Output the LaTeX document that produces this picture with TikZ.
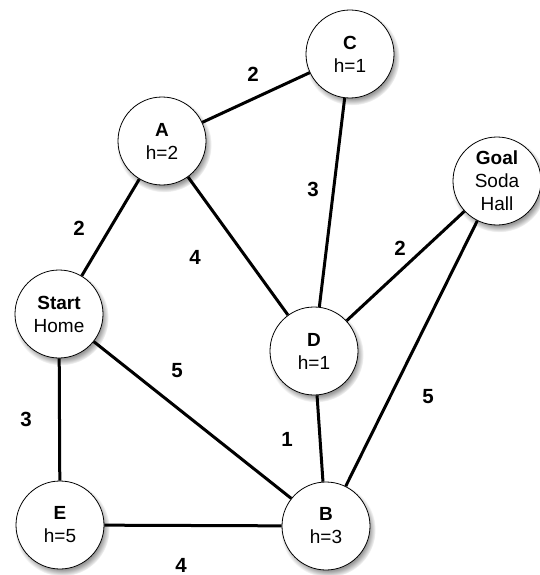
\documentclass[tikz,border=0pt]{standalone}
\usepackage{fontspec}
\setmainfont{Liberation Sans}
\usetikzlibrary{shadows,fadings}

\begin{document}
\begin{tikzpicture}[x=1pt, y=-1pt,
  vertex/.style={circle, draw=black, line width=0.8pt, fill=white,
    minimum size=88pt, inner sep=0pt, align=center,
    font=\fontsize{19}{23}\selectfont,
    circular drop shadow={shadow xshift=2pt, shadow yshift=-3.5pt,
      shadow scale=1.08, opacity=0.8}},
  link/.style={line width=3pt},
  wlabel/.style={font=\bfseries\fontsize{20.5}{20.5}\selectfont, inner sep=0pt}
]
\useasboundingbox (0,0) rectangle (539,575);

% vertices of the search graph
\node[vertex] (C)     at (350,54)  {\textbf{C}\\h=1};
\node[vertex] (A)     at (162,141) {\textbf{A}\\h=2};
\node[vertex] (Goal)  at (497,181) {\textbf{Goal}\\Soda\\Hall};
\node[vertex] (Start) at (59,314)  {\textbf{Start}\\Home};
\node[vertex] (D)     at (314,351) {\textbf{D}\\h=1};
\node[vertex] (E)     at (60,525)  {\textbf{E}\\h=5};
\node[vertex] (B)     at (326,526) {\textbf{B}\\h=3};

% edges
\draw[link] (A) -- (C);
\draw[link] (C) -- (D);
\draw[link] (A) -- (Start);
\draw[link] (A) -- (D);
\draw[link] (Goal) -- (D);
\draw[link] (Goal) -- (B);
\draw[link] (Start) -- (B);
\draw[link] (Start) -- (E);
\draw[link] (D) -- (B);
\draw[link] (E) -- (B);

% edge costs
\node[wlabel] (wAC)  at (253,74)  {2};
\node[wlabel] (wCD)  at (313,189) {3};
\node[wlabel] (wAS)  at (79,228)  {2};
\node[wlabel] (wAD)  at (195,257) {4};
\node[wlabel] (wGD)  at (400,248) {2};
\node[wlabel] (wSB)  at (177,371) {5};
\node[wlabel] (wSE)  at (26,419)  {3};
\node[wlabel] (wDB)  at (287,439) {1};
\node[wlabel] (wGB)  at (428,397) {5};
\node[wlabel] (wEB)  at (181,565) {4};
\end{tikzpicture}
\end{document}
